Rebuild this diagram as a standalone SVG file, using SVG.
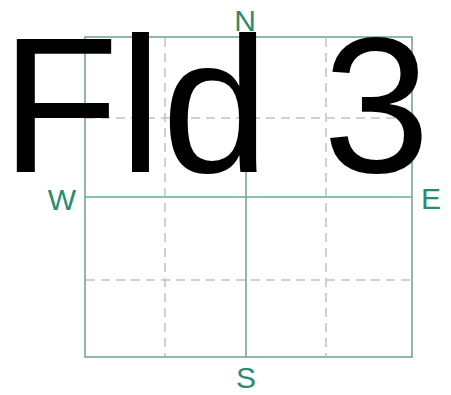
<svg xmlns="http://www.w3.org/2000/svg" width="451" height="395" viewBox="0 0 451 395">
<style>
.solid{stroke:#6f9f92;stroke-width:1.5;fill:none}
.mid{stroke:#86c2ad;stroke-width:2.2;fill:none}
.dash{stroke:#c2c2c2;stroke-width:1.5;stroke-dasharray:9 6;fill:none}
.lbl{font-family:"Liberation Sans",Arial,sans-serif;font-size:30px;fill:#2c8a6f}
.big{font-family:"Liberation Sans",Arial,sans-serif;font-size:193px;fill:#000}
</style>
<rect width="451" height="395" fill="#fff"/>
<g id="grid">
<line class="dash" x1="86" y1="118" x2="411" y2="118"/>
<line class="dash" x1="86" y1="280" x2="411" y2="280"/>
<line class="dash" x1="165" y1="38" x2="165" y2="356"/>
<line class="dash" x1="326" y1="38" x2="326" y2="356"/>
<line class="mid" x1="85" y1="197" x2="412" y2="197"/>
<line class="solid" x1="246" y1="37" x2="246" y2="357"/>
<rect class="solid" x="85" y="37" width="327" height="320"/>
</g>
<g id="labels">
<text class="lbl" x="245" y="31" text-anchor="middle">N</text>
<text class="lbl" x="246" y="388" text-anchor="middle">S</text>
<text class="lbl" x="62" y="210" text-anchor="middle">W</text>
<text class="lbl" x="431" y="209" text-anchor="middle">E</text>
</g>
<text class="big" x="1" y="172">Fld 3</text>
</svg>
